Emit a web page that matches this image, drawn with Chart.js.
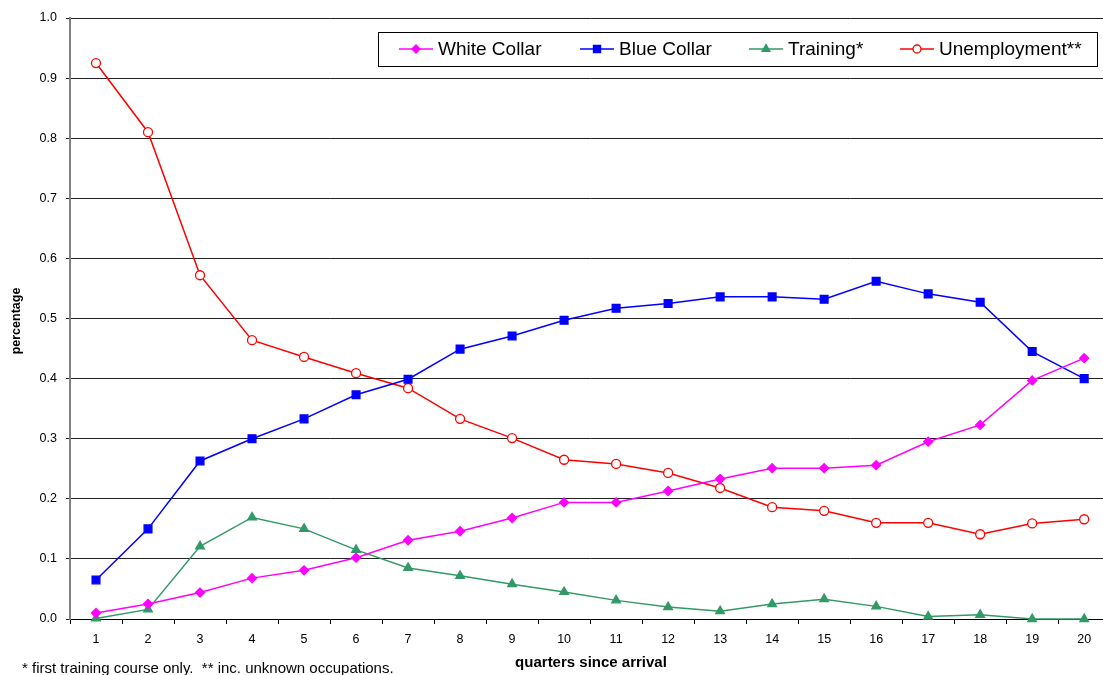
<!DOCTYPE html>
<html>
<head>
<meta charset="utf-8">
<script src="https://cdn.jsdelivr.net/npm/chart.js@4/dist/chart.umd.min.js"></script>
<style>
  html, body { margin: 0; padding: 0; background: #fff; overflow: hidden; }
  #wrap { width: 1103px; height: 675px; position: relative; overflow: hidden; }
</style>
</head>
<body>
<div id="wrap"><canvas id="myChart" width="1117" height="675"></canvas></div>
<script>
// quarters since arrival
const quarters = ['1','2','3','4','5','6','7','8','9','10','11','12','13','14','15','16','17','18','19','20'];

const whiteCollar = [0.010, 0.025, 0.044, 0.068, 0.081, 0.102, 0.131, 0.146, 0.168, 0.194,
                     0.194, 0.213, 0.233, 0.251, 0.251, 0.256, 0.295, 0.323, 0.397, 0.434];
const blueCollar = [0.065, 0.150, 0.263, 0.300, 0.333, 0.373, 0.399, 0.449, 0.471, 0.497,
                    0.517, 0.525, 0.536, 0.536, 0.532, 0.562, 0.541, 0.527, 0.445, 0.400];
const training = [0.001, 0.016, 0.121, 0.169, 0.150, 0.115, 0.085, 0.072, 0.058, 0.045,
                  0.031, 0.020, 0.013, 0.025, 0.033, 0.021, 0.004, 0.007, 0.000, 0.000];
const unemployment = [0.925, 0.810, 0.572, 0.464, 0.436, 0.409, 0.384, 0.333, 0.301, 0.265,
                      0.258, 0.243, 0.218, 0.186, 0.180, 0.160, 0.160, 0.141, 0.159, 0.166];

const yTicks = [0, 0.1, 0.2, 0.3, 0.4, 0.5, 0.6, 0.7, 0.8, 0.9, 1.0];
const footnote = '* first training course only.  ** inc. unknown occupations.';

const font = 'Arial, "Liberation Sans", sans-serif';

const seriesStyle = [
  { label: 'White Collar', color: '#FF00FF', fill: '#FF00FF', pointStyle: 'rectRot', radius: 4.5 },
  { label: 'Blue Collar', color: '#0000FF', fill: '#0000FF', pointStyle: 'rect', radius: 5.5 },
  { label: 'Training*', color: '#339966', fill: '#339966', pointStyle: 'triangle', radius: 5 },
  { label: 'Unemployment**', color: '#FF0000', fill: '#FFFFFF', pointStyle: 'circle', radius: 4.5 }
];
const seriesData = [whiteCollar, blueCollar, training, unemployment];

const datasets = seriesStyle.map((s, i) => ({
  label: s.label,
  data: seriesData[i],
  borderColor: s.color,
  backgroundColor: s.fill,
  borderWidth: 1.5,
  pointStyle: s.pointStyle,
  pointRadius: s.radius,
  pointBorderColor: s.color,
  pointBackgroundColor: s.fill,
  pointBorderWidth: 1.3,
  tension: 0,
  clip: false
}));

// legend box, axis titles and footnote drawn by hand
const extras = {
  id: 'extras',
  afterDraw(chart) {
    const ctx = chart.ctx;
    ctx.save();
    // legend box
    ctx.strokeStyle = '#000';
    ctx.lineWidth = 1;
    ctx.fillStyle = '#fff';
    ctx.fillRect(378.5, 32.5, 719, 34);
    ctx.strokeRect(378.5, 32.5, 719, 34);
    const markerX = [416, 597, 766, 917];
    seriesStyle.forEach((s, i) => {
      const mx = markerX[i], my = 49;
      ctx.strokeStyle = s.color;
      ctx.lineWidth = 1.5;
      ctx.beginPath();
      ctx.moveTo(mx - 17, my);
      ctx.lineTo(mx + 17, my);
      ctx.stroke();
      ctx.fillStyle = s.fill;
      ctx.lineWidth = 1.3;
      Chart.helpers.drawPoint(ctx, {
        pointStyle: s.pointStyle,
        radius: s.radius - 0.5,
        rotation: 0,
        borderWidth: 1.3
      }, mx, my);
      ctx.fillStyle = '#000';
      ctx.font = '19px ' + font;
      ctx.textBaseline = 'middle';
      ctx.textAlign = 'left';
      ctx.fillText(s.label, mx + 22, my + 1);
    });
    // axis titles
    ctx.fillStyle = '#000';
    ctx.font = 'bold 15px ' + font;
    ctx.textAlign = 'center';
    ctx.textBaseline = 'middle';
    ctx.fillText('quarters since arrival', 591, 663);
    ctx.save();
    ctx.translate(17, 321);
    ctx.rotate(-Math.PI / 2);
    ctx.font = 'bold 12.5px ' + font;
    ctx.fillText('percentage', 0, 0);
    ctx.restore();
    // footnote
    ctx.font = '15px ' + font;
    ctx.textAlign = 'left';
    ctx.textBaseline = 'alphabetic';
    ctx.fillText(footnote, 22, 673);
    ctx.restore();
  }
};

const config = {
  type: 'line',
  data: { labels: quarters, datasets: datasets },
  options: {
    responsive: false,
    animation: false,
    layout: { padding: { left: 0, right: 0, top: 18, bottom: 0 } },
    scales: {
      x: {
        type: 'category',
        offset: true,
        grid: {
          offset: true,
          drawOnChartArea: false,
          drawTicks: true,
          tickLength: 5,
          color: '#000',
          lineWidth: 1
        },
        border: { color: '#000', width: 1 },
        ticks: {
          autoSkip: false,
          maxRotation: 0,
          padding: 8,
          color: '#000',
          font: { family: font, size: 12.5 }
        },
        afterFit(scale) { scale.height = 56; }
      },
      y: {
        min: 0,
        max: 1,
        afterBuildTicks(scale) {
          scale.ticks = yTicks.map(v => ({ value: v }));
        },
        grid: {
          color: '#222',
          lineWidth: 1,
          tickLength: 4,
          drawTicks: true
        },
        border: { color: '#808080', width: 2 },
        ticks: {
          padding: 9,
          color: '#000',
          font: { family: font, size: 12.5 },
          callback: (value) => Number(value).toFixed(1)
        },
        afterFit(scale) { scale.width = 70; }
      }
    },
    plugins: {
      legend: { display: false },
      tooltip: { enabled: false }
    }
  },
  plugins: [extras]
};

var ctx = document.getElementById('myChart').getContext('2d');
var myChart = new Chart(ctx, config);
</script>
</body>
</html>
